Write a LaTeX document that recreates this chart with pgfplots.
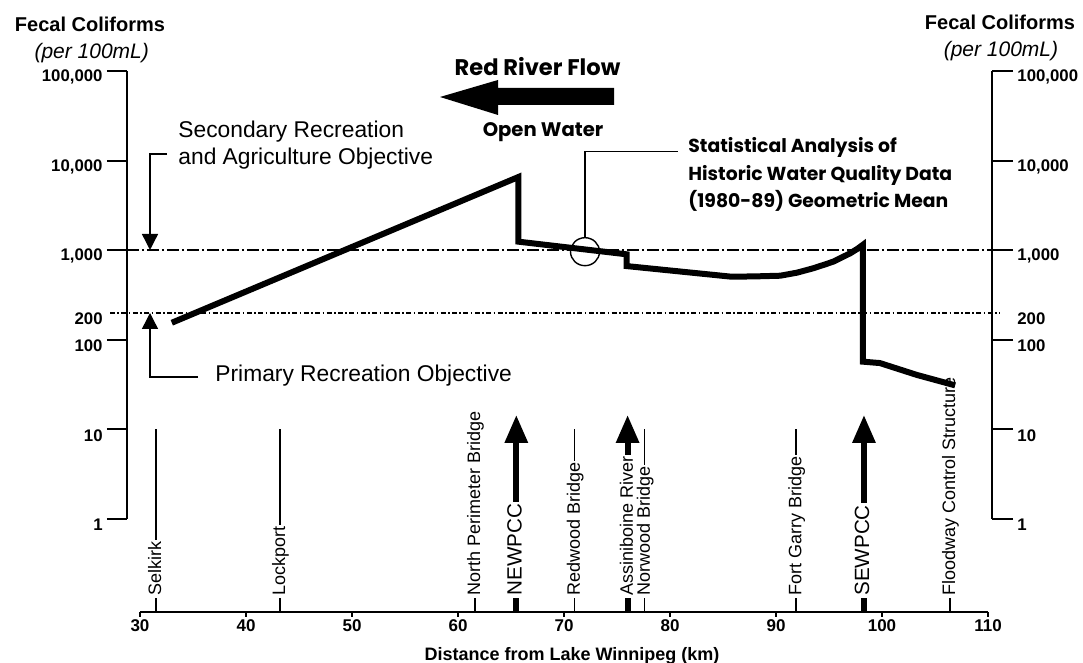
\documentclass[border=0pt]{standalone}
\usepackage{fontspec}
\setmainfont{Liberation Sans}
\newfontfamily\geo{Poppins}
\usepackage{pgfplots}
\pgfplotsset{compat=1.18}
\usetikzlibrary{arrows.meta}
\tikzset{lab/.style={rotate=90, anchor=west, fill=white, inner sep=1pt,
    font=\fontsize{9}{10}\selectfont, text height=0.72em, text depth=0.2em}}
\begin{document}
\begin{tikzpicture}
\path[use as bounding box] (0,0) rectangle (541.5pt,331.5pt);
% ---------- left y axis ----------
\begin{axis}[
  at={(63.5pt,72pt)}, anchor=south west,
  width=5pt, height=224pt, scale only axis,
  xmin=0, xmax=1, ymin=1, ymax=100000, ymode=log,
  axis x line=none, axis y line=left,
  axis line style={-, line width=1pt},
  ytick={1,10,100,1000,10000,100000},
  yticklabels={1,10,100,{1,000},{10,000},{100,000}},
  yminorticks=false,
  tick align=outside, major tick length=10pt,
  tick style={black, line width=1pt},
  yticklabel style={font=\fontsize{8.4}{10}\selectfont\bfseries, yshift=-3pt, inner sep=2pt},
  extra y ticks={200}, extra y tick labels={200},
  extra y tick style={major tick length=0pt, yticklabel style={xshift=-10pt}},
]
\end{axis}
% ---------- right y axis ----------
\begin{axis}[
  at={(496pt,72pt)}, anchor=south east,
  width=5pt, height=224pt, scale only axis,
  xmin=0, xmax=1, ymin=1, ymax=100000, ymode=log,
  axis x line=none, axis y line=right,
  axis line style={-, line width=1pt},
  ytick={1,10,100,1000,10000,100000},
  yticklabels={1,10,100,{1,000},{10,000},{100,000}},
  yminorticks=false,
  tick align=outside, major tick length=10.5pt,
  tick style={black, line width=1pt},
  yticklabel style={font=\fontsize{8.4}{10}\selectfont\bfseries, yshift=-3pt, inner sep=2pt},
  extra y ticks={200}, extra y tick labels={200},
  extra y tick style={major tick length=0pt, yticklabel style={xshift=10.5pt}},
]
\end{axis}
% ---------- main axis ----------
\begin{axis}[
  at={(70pt,25.5pt)}, anchor=south west,
  width=424pt, height=270.5pt, scale only axis,
  xmin=30, xmax=110, ymin=0.09165, ymax=100000, ymode=log,
  axis x line=bottom, axis y line=none,
  axis line style={-, line width=1pt},
  xtick={30,40,...,110}, xticklabels={30,40,50,60,70,80,90,100,110},
  ytick=\empty, yminorticks=false,
  tick align=outside, major tick length=2.5pt,
  tick style={black, line width=0.8pt},
  xticklabel style={font=\fontsize{8.5}{10}\selectfont\bfseries, inner sep=1pt},
  clip=false, no marks,
]
% objective lines
\addplot[black, line width=0.7pt, dash pattern=on 6pt off 1.5pt on 1pt off 1.5pt] coordinates {(28.77,1000) (110.38,1000)};
\addplot[black, line width=0.7pt, dash pattern=on 2.5pt off 1.2pt on 0.8pt off 1.2pt] coordinates {(27.17,200) (111.13,200)};
% stations
\addplot[black, line width=0.7pt] coordinates {(31.5,10) (31.5,0.09165)};
\addplot[black, line width=0.7pt] coordinates {(43.2,10) (43.2,0.09165)};
\addplot[black, line width=0.7pt] coordinates {(61.6,10) (61.6,0.09165)};
\addplot[black, line width=0.7pt] coordinates {(71.0,10) (71.0,0.09165)};
\addplot[black, line width=0.7pt] coordinates {(77.6,10) (77.6,0.09165)};
\addplot[black, line width=0.7pt] coordinates {(91.9,10) (91.9,0.09165)};
\addplot[black, line width=0.7pt] coordinates {(106.4,10) (106.4,0.09165)};
% inflows
\addplot[black, line width=3pt, -{Triangle[width=11pt,length=14pt]}] coordinates {(65.5,0.09165) (65.5,14.5)};
\addplot[black, line width=3pt, -{Triangle[width=11pt,length=14pt]}] coordinates {(76.0,0.09165) (76.0,14.5)};
\addplot[black, line width=3pt, -{Triangle[width=11pt,length=14pt]}] coordinates {(98.3,0.09165) (98.3,14.5)};
% station labels
\node[lab] at (axis cs:31.5,0.1313) {Selkirk};
\node[lab] at (axis cs:43.2,0.1313) {Lockport};
\node[lab] at (axis cs:61.6,0.1313) {North Perimeter Bridge};
\node[lab, font=\fontsize{10.3}{12}\selectfont] at (axis cs:65.5,0.1313) {NEWPCC};
\node[lab] at (axis cs:71.0,0.1313) {Redwood Bridge};
\node[lab] at (axis cs:76.0,0.1313) {Assiniboine River};
\node[lab] at (axis cs:77.6,0.1313) {Norwood Bridge};
\node[lab] at (axis cs:91.9,0.1313) {Fort Garry Bridge};
\node[lab, font=\fontsize{10.3}{12}\selectfont] at (axis cs:98.3,0.1313) {SEWPCC};
\node[lab] at (axis cs:106.4,0.1313) {Floodway Control Structure};
% geometric mean profile
\addplot[black, line width=3pt] coordinates {
(33.0,155) (65.7,6560) (65.7,1245) (75.9,900) (75.9,665) (85.8,506) (88.0,510)
(90.4,519) (92.0,562) (93.5,628) (94.5,686) (95.4,745) (96.2,830) (97.0,923)
(97.7,1040) (98.2,1150) (98.2,57) (99.8,55) (103.3,40.5) (106.9,31)};
\end{axis}
% ---------- annotations (pixel grid of the reference) ----------
\begin{scope}[x=0.5pt, y=-0.5pt, yshift=331.5pt]
\node[anchor=base, inner sep=0pt, font=\fontsize{10}{12}\selectfont\bfseries] at (90,31.7) {Fecal Coliforms};
\node[anchor=base, inner sep=0pt, font=\fontsize{10.5}{12}\selectfont\itshape] at (91.7,59) {(per 100mL)};
\node[anchor=base, inner sep=0pt, font=\fontsize{10}{12}\selectfont\bfseries] at (1000,30) {Fecal Coliforms};
\node[anchor=base, inner sep=0pt, font=\fontsize{10.5}{12}\selectfont\itshape] at (1001,57) {(per 100mL)};
% objectives
\node[anchor=base west, inner sep=0pt, font=\fontsize{11.4}{13}\selectfont] at (178,138) {Secondary Recreation};
\node[anchor=base west, inner sep=0pt, font=\fontsize{11.4}{13}\selectfont] at (178,165) {and Agriculture Objective};
\draw[line width=0.7pt, -{Triangle[width=8pt,length=8pt]}] (167,154) -- (150,154) -- (150,250);
\draw[line width=0.7pt, -{Triangle[width=8pt,length=8pt]}] (198,377) -- (150,377) -- (150,313);
\node[anchor=base west, inner sep=0pt, font=\fontsize{11.4}{13}\selectfont] at (215,381.7) {Primary Recreation Objective};
% flow arrow
\fill (440,97) -- (498,80) -- (498,88) -- (614,88) -- (614,105) -- (498,105) -- (498,115) -- cycle;
\node[anchor=base, inner sep=0pt, font=\geo\bfseries\fontsize{11.3}{13}\selectfont] at (537.5,76) {Red River Flow};
\node[anchor=base, inner sep=0pt, font=\geo\bfseries\fontsize{9.8}{12}\selectfont] at (543,136.7) {Open Water};
% statistical analysis callout
\draw[line width=0.7pt] (585,251.7) ellipse [x radius=14.5, y radius=14];
\draw[line width=0.7pt] (585,237.7) -- (585,151.7) -- (678,151.7);
\node[anchor=base west, inner sep=0pt, font=\geo\bfseries\fontsize{9.4}{12}\selectfont] at (688,153) {Statistical Analysis of};
\node[anchor=base west, inner sep=0pt, font=\geo\bfseries\fontsize{9.4}{12}\selectfont] at (688,181) {Historic Water Quality Data};
\node[anchor=base west, inner sep=0pt, font=\geo\bfseries\fontsize{9.4}{12}\selectfont] at (688,208) {(1980-89) Geometric Mean};
% x label
\node[anchor=base, inner sep=0pt, font=\fontsize{9}{10}\selectfont\bfseries] at (572,660.5) {Distance from Lake Winnipeg (km)};
\end{scope}
\end{tikzpicture}
\end{document}
